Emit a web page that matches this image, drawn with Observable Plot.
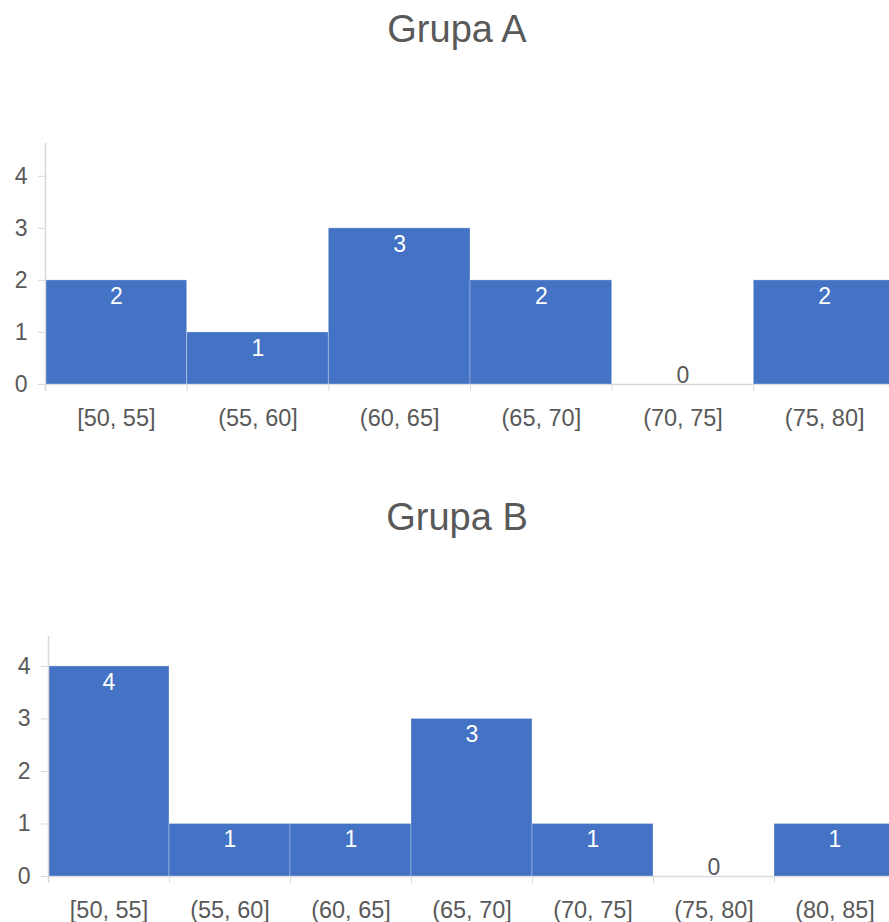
<!DOCTYPE html>
<html>
<head>
<meta charset="utf-8">
<script src="https://cdn.jsdelivr.net/npm/d3@7"></script>
<script src="https://cdn.jsdelivr.net/npm/@observablehq/plot@0.6"></script>
<style>
  html, body { margin: 0; padding: 0; overflow: hidden; background: #fff; }
  body { width: 889px; height: 922px; position: relative; font-family: "Liberation Sans", Arial, sans-serif; }
  .title { position: absolute; left: 0; width: 914px; text-align: center; font-size: 38px; line-height: 38px; color: #595959; }
  .chart { position: absolute; left: 0; width: 914px; }
  .chart svg { max-width: none !important; }
</style>
</head>
<body>
<div class="title" id="tA" style="top:10px">Grupa A</div>
<div class="chart" id="cA" style="top:100px"></div>
<div class="title" id="tB" style="top:498px">Grupa B</div>
<div class="chart" id="cB" style="top:588px"></div>
<script>
// Data
const edgesA = [50, 55, 60, 65, 70, 75, 80];
const countsA = [2, 1, 3, 2, 0, 2];
const labelsA = ["[50, 55]", "(55, 60]", "(60, 65]", "(65, 70]", "(70, 75]", "(75, 80]"];

const edgesB = [50, 55, 60, 65, 70, 75, 80, 85];
const countsB = [4, 1, 1, 3, 1, 0, 1];
const labelsB = ["[50, 55]", "(55, 60]", "(60, 65]", "(65, 70]", "(70, 75]", "(75, 80]", "(80, 85]"];

const yTicks = [0, 1, 2, 3, 4];

function hist(edges, counts, labels, opts) {
  const rows = counts.map((c, i) => ({x1: edges[i], x2: edges[i + 1], count: c, label: labels[i]}));
  const centers = rows.map(d => (d.x1 + d.x2) / 2);
  const mid = d => (d.x1 + d.x2) / 2;
  return Plot.plot({
    width: 914,
    height: opts.height,
    marginLeft: opts.marginLeft,
    marginRight: 19,
    marginTop: opts.marginTop,
    marginBottom: opts.marginBottom,
    style: {fontFamily: '"Liberation Sans", Arial, sans-serif', fontSize: "23px", color: "#595959", background: "transparent", overflow: "visible", maxWidth: "none"},
    x: {domain: [edges[0], edges[edges.length - 1]], axis: null, label: null},
    y: {domain: [0, opts.ymax], axis: null, label: null},
    marks: [
      Plot.ruleY([0], {stroke: "#d9d9d9", strokeWidth: 1.5}),
      Plot.rectY(rows, {x1: "x1", x2: "x2", y: "count", fill: "#4472C4", stroke: "#ffffff", strokeOpacity: 0.3, strokeWidth: 1}),
      Plot.ruleX([edges[0]], {stroke: "#d9d9d9", strokeWidth: 1.5, insetBottom: -7}),
      Plot.axisY(yTicks, {tickSize: 7, tickPadding: 11, stroke: "#d9d9d9", fill: "#595959", fontSize: 23, label: null, tickFormat: d => String(d)}),
      Plot.axisX(edges, {tickSize: 7, stroke: "#d9d9d9", tickFormat: () => "", label: null}),
      Plot.axisX(centers, {tickSize: 0, tickPadding: 25, fill: "#595959", fontSize: 23.5, label: null, tickFormat: (d, i) => labels[i]}),
      Plot.text(rows.filter(d => d.count > 0), {x: mid, y: "count", text: d => String(d.count), fill: "white", lineAnchor: "top", dy: 7, fontSize: 23}),
      Plot.text(rows.filter(d => d.count === 0), {x: mid, y: "count", text: d => String(d.count), fill: "#595959", lineAnchor: "bottom", dy: -2, fontSize: 23})
    ]
  });
}

document.getElementById("cA").append(hist(edgesA, countsA, labelsA, {height: 340, marginLeft: 45, marginTop: 43, marginBottom: 56, ymax: 4.63}));
document.getElementById("cB").append(hist(edgesB, countsB, labelsB, {height: 334, marginLeft: 48, marginTop: 48, marginBottom: 46, ymax: 4.57}));
</script>
</body>
</html>
